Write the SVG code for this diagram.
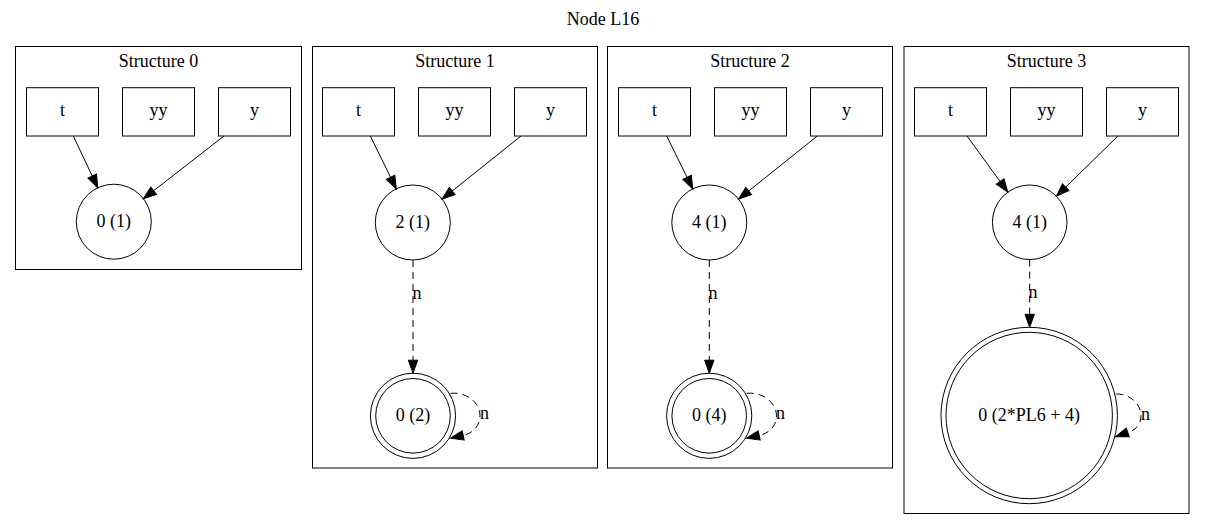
<svg xmlns="http://www.w3.org/2000/svg" width="1205" height="530" viewBox="0 0 1205 530">
<style>
text{font-family:"Liberation Serif","Times New Roman",serif;font-size:18px;fill:#000;text-anchor:middle}
.cl{fill:none;stroke:#000;stroke-width:1}
.nd{fill:none;stroke:#000;stroke-width:1}
.e{fill:none;stroke:#000;stroke-width:1}
.d{fill:none;stroke:#000;stroke-width:1;stroke-dasharray:7,5}
</style>
<defs>
<marker id="ah" markerUnits="userSpaceOnUse" markerWidth="16" markerHeight="12" refX="13" refY="4.7" orient="auto" overflow="visible">
<path d="M0,0 L13,4.7 L0,9.4 Z" fill="#000" stroke="#000" stroke-width="1" stroke-dasharray="none"/>
</marker>
</defs>
<rect width="1205" height="530" fill="#fff"/>
<text x="603" y="25">Node L16</text>

<g id="cluster0">
<rect class="cl" x="15.5" y="46.5" width="286" height="223"/>
<text x="158.5" y="67">Structure 0</text>
</g>
<g id="cluster1">
<rect class="cl" x="312.5" y="46.5" width="285" height="421.5"/>
<text x="455" y="67">Structure 1</text>
</g>
<g id="cluster2">
<rect class="cl" x="607.5" y="46.5" width="285" height="421.5"/>
<text x="750" y="67">Structure 2</text>
</g>
<g id="cluster3">
<rect class="cl" x="904" y="46.5" width="285" height="467"/>
<text x="1046.5" y="67">Structure 3</text>
</g>

<g id="s0_t"><rect class="nd" x="26.5" y="87.7" width="72" height="48.3"/><text x="62.5" y="116">t</text></g>
<g id="s0_yy"><rect class="nd" x="122.5" y="87.7" width="72" height="48.3"/><text x="158.5" y="116">yy</text></g>
<g id="s0_y"><rect class="nd" x="218.5" y="87.7" width="72" height="48.3"/><text x="254.5" y="116">y</text></g>
<g id="s0_c"><circle class="nd" cx="113.8" cy="221.7" r="37.5"/><text x="113.8" y="227">0 (1)</text></g>

<g id="s1_t"><rect class="nd" x="322.5" y="87.7" width="72" height="48.3"/><text x="358.5" y="116">t</text></g>
<g id="s1_yy"><rect class="nd" x="418.5" y="87.7" width="72" height="48.3"/><text x="454.5" y="116">yy</text></g>
<g id="s1_y"><rect class="nd" x="514.5" y="87.7" width="72" height="48.3"/><text x="550.5" y="116">y</text></g>
<g id="s1_c"><circle class="nd" cx="412.8" cy="222.5" r="37.5"/><text x="412.8" y="228">2 (1)</text></g>
<g id="s1_f"><circle class="nd" cx="413" cy="415.8" r="37.3"/><circle class="nd" cx="413" cy="415.8" r="42.6"/><text x="413" y="421">0 (2)</text></g>

<g id="s2_t"><rect class="nd" x="618.5" y="87.7" width="72" height="48.3"/><text x="654.5" y="116">t</text></g>
<g id="s2_yy"><rect class="nd" x="714.5" y="87.7" width="72" height="48.3"/><text x="750.5" y="116">yy</text></g>
<g id="s2_y"><rect class="nd" x="810.5" y="87.7" width="72" height="48.3"/><text x="846.5" y="116">y</text></g>
<g id="s2_c"><circle class="nd" cx="709.3" cy="222.5" r="37.5"/><text x="709.3" y="228">4 (1)</text></g>
<g id="s2_f"><circle class="nd" cx="709.2" cy="415.8" r="37.3"/><circle class="nd" cx="709.2" cy="415.8" r="42.6"/><text x="709.2" y="421">0 (4)</text></g>

<g id="s3_t"><rect class="nd" x="914.5" y="87.7" width="72" height="48.3"/><text x="950.5" y="116">t</text></g>
<g id="s3_yy"><rect class="nd" x="1010.5" y="87.7" width="72" height="48.3"/><text x="1046.5" y="116">yy</text></g>
<g id="s3_y"><rect class="nd" x="1106.5" y="87.7" width="72" height="48.3"/><text x="1142.5" y="116">y</text></g>
<g id="s3_c"><circle class="nd" cx="1029.7" cy="222.3" r="37.3"/><text x="1029.7" y="228">4 (1)</text></g>
<g id="s3_f"><circle class="nd" cx="1029.2" cy="415.5" r="83.2"/><circle class="nd" cx="1029.2" cy="415.5" r="88.2"/><text x="1029.2" y="421">0 (2*PL6 + 4)</text></g>

<g id="connectors">
<path class="e" d="M73.3,136 L97.8,187.8" marker-end="url(#ah)"/>
<path class="e" d="M224,136 L143.4,198.7" marker-end="url(#ah)"/>

<path class="e" d="M370.3,136 L396.3,188.9" marker-end="url(#ah)"/>
<path class="e" d="M521,136 L442.1,199.1" marker-end="url(#ah)"/>
<path class="d" d="M413,260 L413,373.2" marker-end="url(#ah)"/>
<text x="417" y="299">n</text>
<path class="d" d="M450.5,393.3 C468,391.8 480,403.5 480,415.8 C480,425.8 473,432.8 464,435.3 L450.5,438.3" marker-end="url(#ah)"/>
<text x="484.5" y="419">n</text>

<path class="e" d="M666.7,136 L692.8,188.9" marker-end="url(#ah)"/>
<path class="e" d="M817.3,136 L738.6,199.1" marker-end="url(#ah)"/>
<path class="d" d="M709.3,260 L709.3,373.2" marker-end="url(#ah)"/>
<text x="713" y="298.5">n</text>
<path class="d" d="M746.7,393.3 C764,391.8 776.5,403.5 776.5,415.8 C776.5,425.8 769.5,432.8 760,435.3 L746.5,438.3" marker-end="url(#ah)"/>
<text x="780.5" y="419">n</text>

<path class="e" d="M967,136 L1007.8,192.1" marker-end="url(#ah)"/>
<path class="e" d="M1118,136 L1056.4,196.2" marker-end="url(#ah)"/>
<path class="d" d="M1029.7,259.6 L1029.7,327.3" marker-end="url(#ah)"/>
<text x="1033" y="298">n</text>
<path class="d" d="M1116.2,394 C1129,393.5 1141,403.5 1141,415.5 C1141,424.5 1136,429.5 1129,432 L1115.5,436.7" marker-end="url(#ah)"/>
<text x="1145.5" y="420">n</text>
</g>
</svg>
